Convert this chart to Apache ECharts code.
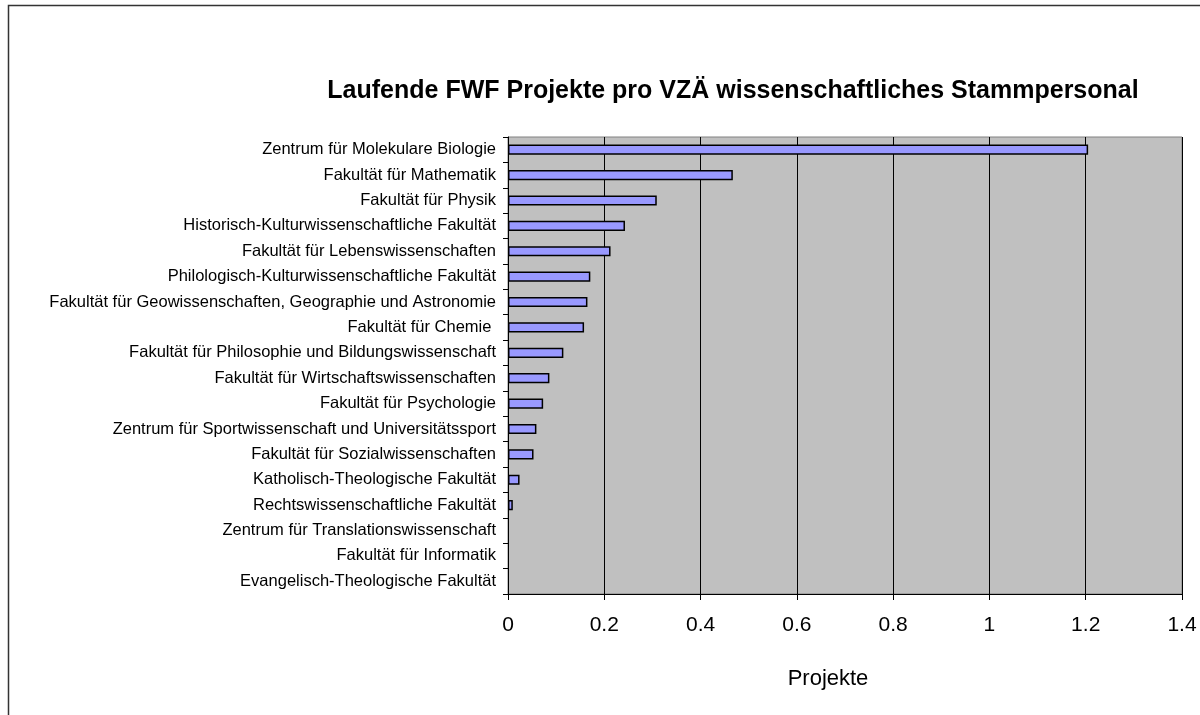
<!DOCTYPE html>
<html>
<head>
<meta charset="utf-8">
<script src="https://cdn.jsdelivr.net/npm/echarts@6/dist/echarts.min.js"></script>
<style>
  html, body { margin: 0; padding: 0; background: #fff; }
  #chart { width: 1200px; height: 715px; }
</style>
</head>
<body>
<div id="chart"></div>
<script>
// Fakultäten / Zentren, von oben nach unten
const categories = [
  'Zentrum für Molekulare Biologie',
  'Fakultät für Mathematik',
  'Fakultät für Physik',
  'Historisch-Kulturwissenschaftliche Fakultät',
  'Fakultät für Lebenswissenschaften',
  'Philologisch-Kulturwissenschaftliche Fakultät',
  'Fakultät für Geowissenschaften, Geographie und Astronomie',
  'Fakultät für Chemie ',
  'Fakultät für Philosophie und Bildungswissenschaft',
  'Fakultät für Wirtschaftswissenschaften',
  'Fakultät für Psychologie',
  'Zentrum für Sportwissenschaft und Universitätssport',
  'Fakultät für Sozialwissenschaften',
  'Katholisch-Theologische Fakultät',
  'Rechtswissenschaftliche Fakultät',
  'Zentrum für Translationswissenschaft',
  'Fakultät für Informatik',
  'Evangelisch-Theologische Fakultät'
]
// Laufende FWF Projekte pro VZÄ
const projekte = [1.205, 0.467, 0.309, 0.243, 0.213, 0.171, 0.165, 0.158, 0.115,
  0.086, 0.073, 0.059, 0.053, 0.024, 0.01, 0, 0, 0]
const xTicks = [0, 0.2, 0.4, 0.6, 0.8, 1, 1.2, 1.4]

const font = 'Liberation Sans, Arial, sans-serif'
const chart = echarts.init(document.getElementById('chart'))
chart.setOption({
  animation: false,
  title: {
    text: 'Laufende FWF Projekte pro VZÄ wissenschaftliches Stammpersonal',
    left: 728,
    textAlign: 'center',
    top: 74,
    textStyle: { fontFamily: font, fontSize: 25, fontWeight: 'bold', color: '#000' }
  },
  // äußerer Rahmen
  graphic: [{
    type: 'rect',
    shape: { x: 8.5, y: 5.5, width: 1300, height: 800 },
    style: { fill: null, stroke: '#333', lineWidth: 1.5 },
    silent: true
  }],
  grid: {
    left: 508,
    right: 18,
    top: 137,
    bottom: 121,
    show: true,
    backgroundColor: '#C0C0C0',
    borderColor: '#808080',
    borderWidth: 1
  },
  xAxis: {
    type: 'value',
    min: xTicks[0],
    max: xTicks[xTicks.length - 1],
    interval: 0.2,
    name: 'Projekte',
    nameLocation: 'middle',
    nameGap: 74,
    nameTextStyle: { fontFamily: font, fontSize: 22, color: '#000', padding: [0, 34, 0, 0] },
    axisLine: { show: true, lineStyle: { color: '#000', width: 1 } },
    axisTick: { show: true, length: 6, lineStyle: { color: '#000' } },
    axisLabel: {
      fontFamily: font, fontSize: 21, color: '#000', margin: 21,
      formatter: v => String(Math.round(v * 10) / 10)
    },
    splitLine: { show: true, lineStyle: { color: '#000', width: 1 } }
  },
  yAxis: {
    type: 'category',
    data: categories,
    inverse: true,
    axisLine: { show: true, lineStyle: { color: '#000', width: 1 } },
    axisTick: { show: true, length: 5, lineStyle: { color: '#000' } },
    axisLabel: { fontFamily: font, fontSize: 16.5, color: '#000', margin: 12, interval: 0 },
    splitLine: { show: false }
  },
  series: [{
    name: 'Projekte',
    type: 'bar',
    // Nullwerte ohne Rahmen, wie im Original
    data: projekte.map(v => (v === 0 ? { value: v, itemStyle: { borderWidth: 0 } } : v)),
    barCategoryGap: '60%',
    itemStyle: { color: '#9999FF', borderColor: '#000', borderWidth: 1.5 }
  }]
})
</script>
</body>
</html>
